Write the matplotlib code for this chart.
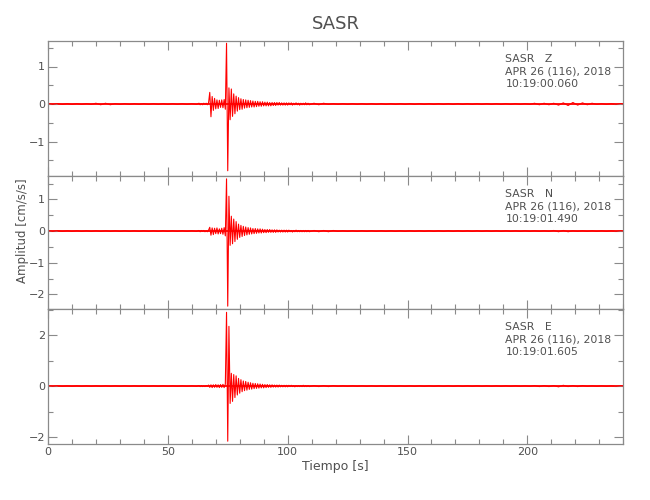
import matplotlib.pyplot as plt
from matplotlib.ticker import MultipleLocator
import numpy as np

plt.rcParams['font.family'] = ['DejaVu Sans', 'Noto Sans']
plt.rcParams['axes.unicode_minus'] = True

estacion = 'SASR'
fecha = 'APR 26 (116), 2018'
componentes = ['Z', 'N', 'E']
horas = ['10:19:00.060', '10:19:01.490', '10:19:01.605']

# valores (cm/s/s)
# pre: cada 2 s desde 0 s, main: cada 0.5 s desde 63 s, post: cada 2 s despues
z_pre = [0.01, -0.01, 0.01, -0.01, 0.01, -0.01, 0.01, -0.01, 0.01, -0.01,
         0.02, -0.02, 0.02, -0.02, 0.01, -0.01, 0.01, -0.01, 0.01, -0.01,
         0.01, -0.01, 0.01, -0.01, 0.01, -0.01, 0.01, -0.01, 0.01, -0.01,
         0.01, -0.01]
z_main = [0.02, -0.02, 0.01, -0.02, 0.02, -0.01, 0.02, -0.02, 0.03,
          0.31, -0.34, 0.20, -0.17, 0.15, -0.13, 0.11, -0.12, 0.10, -0.09, 0.11, -0.10, 0.12, -0.14,
          1.62, -1.78, 0.43, -0.42, 0.40, -0.33, 0.27, -0.26, 0.21, -0.19,
          0.17, -0.15, 0.14, -0.14, 0.12, -0.11, 0.11, -0.10, 0.10, -0.09,
          0.09, -0.08, 0.08, -0.08, 0.07, -0.07, 0.07, -0.06, 0.06, -0.06,
          0.06, -0.05, 0.05, -0.05, 0.05, -0.05, 0.04, -0.05, 0.04, -0.04,
          0.04, -0.04, 0.04, -0.03, 0.04, -0.03, 0.03, -0.03, 0.03, -0.03,
          0.03, -0.03, 0.03, -0.02, 0.03, -0.03, 0.02, -0.02, 0.03, -0.02,
          0.02, -0.03, 0.02, -0.02, 0.02, -0.02, 0.03, -0.02, 0.02, -0.02]
z_post = [0.02, -0.02, 0.02, -0.01, 0.01, -0.01, 0.01, -0.01, 0.01, -0.01,
          0.01, -0.01, 0.01, -0.01, 0.01, -0.01, 0.01, -0.01, 0.01, -0.01,
          0.01, -0.01, 0.01, -0.01, 0.01, -0.01, 0.01, -0.01, 0.01, -0.01,
          0.01, -0.01, 0.01, -0.01, 0.01, -0.01, 0.01, -0.01, 0.01, -0.01,
          0.01, -0.01, 0.01, -0.01, 0.01, -0.01, 0.02, -0.02, 0.02, -0.02,
          0.02, -0.03, 0.03, -0.04, 0.04, -0.03, 0.03, -0.02, 0.02, -0.01,
          0.01, -0.01, 0.01, -0.01, 0.01, -0.01]

n_pre = [0.01, -0.01, 0.01, -0.01, 0.01, -0.01, 0.01, -0.01, 0.01, -0.01,
         0.01, -0.01, 0.01, -0.01, 0.01, -0.01, 0.01, -0.01, 0.01, -0.01,
         0.01, -0.01, 0.01, -0.01, 0.01, -0.01, 0.01, -0.01, 0.01, -0.01,
         0.01, -0.01]
n_main = [0.02, -0.02, 0.02, -0.01, 0.02, -0.02, 0.01, -0.02, 0.03,
          0.12, -0.13, 0.10, -0.11, 0.09, -0.08, 0.10, -0.09, 0.07, -0.08, 0.09, -0.10, 0.11, -0.15,
          1.65, -2.37, 1.10, -0.45, 0.47, -0.40, 0.38, -0.33, 0.30, -0.26,
          0.22, -0.20, 0.18, -0.17, 0.15, -0.14, 0.13, -0.12, 0.11, -0.10,
          0.10, -0.09, 0.08, -0.08, 0.08, -0.07, 0.07, -0.06, 0.07, -0.06,
          0.06, -0.05, 0.05, -0.05, 0.05, -0.04, 0.05, -0.04, 0.04, -0.04,
          0.04, -0.04, 0.04, -0.03, 0.03, -0.03, 0.03, -0.03, 0.03, -0.03,
          0.03, -0.03, 0.03, -0.02, 0.02, -0.03, 0.02, -0.02, 0.03, -0.02,
          0.02, -0.02, 0.02, -0.02, 0.02, -0.02, 0.02, -0.02, 0.02, -0.02]
n_post = [0.02, -0.02, 0.02, -0.02, 0.02, -0.01, 0.01, -0.01, 0.01, -0.01,
          0.01, -0.01, 0.01, -0.01, 0.01, -0.01, 0.01, -0.01, 0.01, -0.01,
          0.01, -0.01, 0.01, -0.01, 0.01, -0.01, 0.01, -0.01, 0.01, -0.01,
          0.01, -0.01, 0.01, -0.01, 0.01, -0.01, 0.01, -0.01, 0.01, -0.01,
          0.01, -0.01, 0.01, -0.01, 0.01, -0.01, 0.01, -0.01, 0.01, -0.01,
          0.02, -0.02, 0.02, -0.02, 0.01, -0.01, 0.01, -0.01, 0.01, -0.01,
          0.01, -0.01, 0.01, -0.01, 0.01, -0.01]

e_pre = [0.01, -0.01, 0.01, -0.01, 0.01, -0.01, 0.01, -0.01, 0.01, -0.01,
         0.01, -0.01, 0.01, -0.01, 0.01, -0.01, 0.01, -0.01, 0.01, -0.01,
         0.01, -0.01, 0.01, -0.01, 0.01, -0.01, 0.01, -0.01, 0.01, -0.01,
         0.01, -0.01]
e_main = [0.02, -0.02, 0.02, -0.02, 0.01, -0.02, 0.02, -0.01, 0.04,
          -0.05, 0.05, -0.06, 0.05, -0.05, 0.06, -0.05, 0.05, -0.06, 0.06, -0.05, 0.07, -0.06, 0.08,
          2.89, -2.16, 2.34, -0.68, 0.50, -0.60, 0.45, -0.45, 0.40, -0.35,
          0.30, -0.28, 0.25, -0.22, 0.20, -0.18, 0.18, -0.16, 0.15, -0.13,
          0.13, -0.12, 0.11, -0.10, 0.10, -0.09, 0.09, -0.08, 0.08, -0.07,
          0.07, -0.07, 0.06, -0.06, 0.06, -0.05, 0.05, -0.05, 0.05, -0.04,
          0.04, -0.04, 0.04, -0.04, 0.04, -0.03, 0.03, -0.03, 0.03, -0.03,
          0.03, -0.03, 0.03, -0.02, 0.03, -0.02, 0.02, -0.03, 0.02, -0.02,
          0.02, -0.02, 0.02, -0.02, 0.03, -0.02, 0.02, -0.02, 0.02, -0.02]
e_post = [0.02, -0.02, 0.02, -0.02, 0.02, -0.01, 0.01, -0.01, 0.01, -0.01,
          0.01, -0.01, 0.01, -0.01, 0.01, -0.01, 0.01, -0.01, 0.01, -0.01,
          0.01, -0.01, 0.01, -0.01, 0.01, -0.01, 0.01, -0.01, 0.01, -0.01,
          0.01, -0.01, 0.01, -0.01, 0.01, -0.01, 0.01, -0.01, 0.01, -0.01,
          0.01, -0.01, 0.01, -0.01, 0.01, -0.01, 0.02, -0.02, 0.02, -0.02,
          0.02, -0.03, 0.03, -0.02, 0.02, -0.02, 0.02, -0.01, 0.01, -0.01,
          0.01, -0.01, 0.01, -0.01, 0.01, -0.01]

trazas = [(z_pre, z_main, z_post), (n_pre, n_main, n_post), (e_pre, e_main, e_post)]

# limites de cada panel y espaciado de ticks
ylims = [(-1.92, 1.68), (-2.46, 1.74), (-2.27, 3.02)]
ymajor = [1, 1, 2]
yminor = [0.5, 0.5, 1]

gris = '#8a8a8a'
texto = '#505050'


def tiempos(pre, main, post):
    t_pre = 2.0 * np.arange(len(pre))
    t_main = 63.0 + 0.5 * np.arange(len(main))
    t_post = t_main[-1] + 2.0 + 2.0 * np.arange(len(post))
    t = np.concatenate([t_pre, t_main, t_post])
    y = np.concatenate([pre, main, post])
    return t, y


fig = plt.figure(figsize=(6.5, 5), dpi=100)
bottoms = [0.648, 0.382, 0.112]
heights = [0.270, 0.266, 0.270]

axes = []
for i in range(3):
    ax = fig.add_axes([0.0738, bottoms[i], 0.885, heights[i]])
    t, y = tiempos(*trazas[i])
    ax.plot(t, y, color='red', lw=0.8)
    ax.axhline(0, color='red', lw=1.3, zorder=1)

    ax.set_xlim(0, 240)
    ax.set_ylim(*ylims[i])
    ax.xaxis.set_major_locator(MultipleLocator(50))
    ax.xaxis.set_minor_locator(MultipleLocator(10))
    ax.yaxis.set_major_locator(MultipleLocator(ymajor[i]))
    ax.yaxis.set_minor_locator(MultipleLocator(yminor[i]))
    ax.tick_params(which='both', direction='in', top=True, right=True,
                   color=gris, labelcolor=texto, labelsize=8, pad=2)
    ax.tick_params(which='major', length=6.5, width=0.8)
    ax.tick_params(which='minor', length=3.5, width=0.8)
    for s in ax.spines.values():
        s.set_color(gris)
        s.set_linewidth(0.9)
    if i < 2:
        ax.tick_params(labelbottom=False)

    ax.text(0.795, 0.90, f'{estacion}   {componentes[i]}\n{fecha}\n{horas[i]}',
            transform=ax.transAxes, ha='left', va='top', fontsize=7.8,
            color=texto, linespacing=1.3)
    axes.append(ax)

axes[2].set_xlabel('Tiempo [s]', fontsize=9, color=texto, labelpad=2)
fig.text(0.034, 0.538, 'Amplitud [cm/s/s]', rotation=90, ha='center', va='center',
         fontsize=8.5, color=texto)
fig.text(0.516, 0.952, estacion, ha='center', va='center', fontsize=13, color=texto)

plt.savefig('out.png', dpi=100)
